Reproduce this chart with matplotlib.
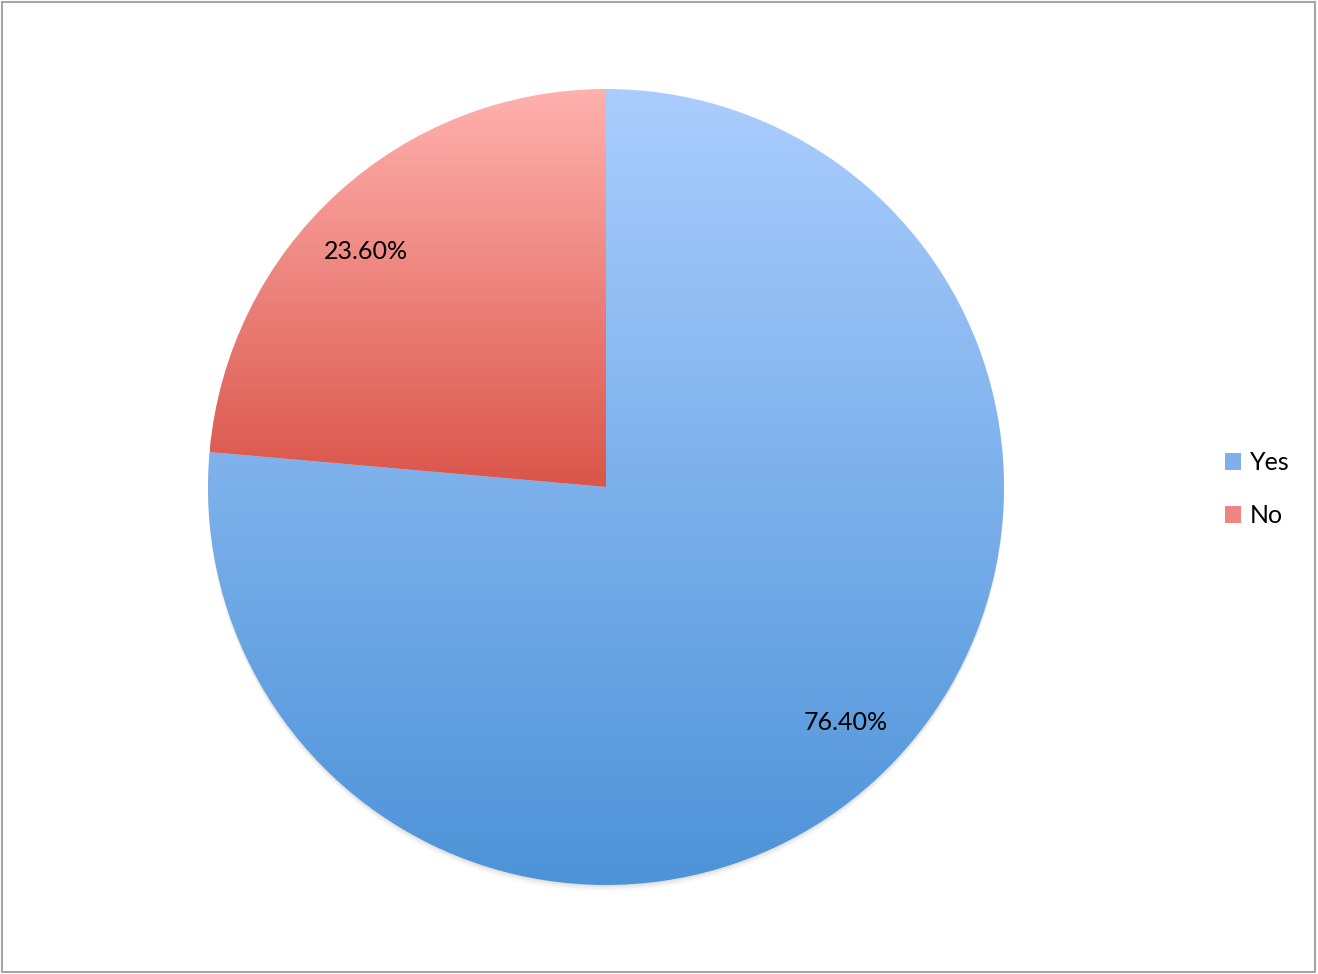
import matplotlib
matplotlib.use("Agg")
import matplotlib.pyplot as plt
import numpy as np
from matplotlib.colors import LinearSegmentedColormap
from matplotlib.patches import Rectangle, Circle, Patch

# data
labels = ['Yes', 'No']
values = [76.4, 23.6]
top_colors = ['#abcdfe', '#ffb1ae']
bottom_colors = ['#4d93d8', '#da554a']

W, H = 1318, 974
fig = plt.figure(figsize=(W / 100, H / 100), dpi=100)
ax = fig.add_axes([0, 0, 1, 1])

cx, cy, r = 606, 487, 398

# soft shadow under the pie
for k, a in [(6, 0.05), (4, 0.08), (2, 0.12)]:
    ax.add_patch(Circle((cx, cy - k), r, color='#888888', alpha=a, lw=0, zorder=0))

wedges, texts, autotexts = ax.pie(
    values, center=(cx, cy), radius=r, startangle=90, counterclock=False,
    autopct=lambda p: f'{p:.2f}%', pctdistance=0.845, frame=True,
    wedgeprops=dict(linewidth=0),
    textprops=dict(fontsize=18, family='Lato', color='black'))
ax.set_xlim(0, W)
ax.set_ylim(0, H)
ax.axis('off')

# vertical gradient fill per wedge
for w, c_top, c_bot in zip(wedges, top_colors, bottom_colors):
    path = w.get_path().transformed(w.get_patch_transform())
    ext = path.get_extents()
    cmap = LinearSegmentedColormap.from_list('g', [c_bot, c_top])
    grad = np.linspace(0, 1, 256).reshape(-1, 1)
    im = ax.imshow(grad, cmap=cmap, origin='lower', aspect='auto',
                   extent=[ext.x0, ext.x1, ext.y0, ext.y1], zorder=1)
    im.set_clip_path(w)
    w.set_facecolor('none')
    w.set_zorder(2)

# labels sit a little counter-clockwise of the wedge middle, like Excel does
for w, t in zip(wedges, autotexts):
    ang = np.deg2rad((w.theta1 + w.theta2) / 2 + 3)
    t.set_position((cx + 0.845 * r * np.cos(ang), cy + 0.845 * r * np.sin(ang)))
    t.set_zorder(3)

ax.set_xlim(0, W)
ax.set_ylim(0, H)

# legend
handles = [Patch(facecolor=c, edgecolor='none') for c in ['#7fb0ea', '#ef8580']]
fig.legend(handles, labels, loc='center left', bbox_to_anchor=(1202 / W, 1 - 489 / H),
           frameon=False, prop=dict(family='Lato', size=18),
           handlelength=0.65, handleheight=0.65, handletextpad=0.35, labelspacing=1.2)

# outer border
fig.add_artist(Rectangle((1.5 / W, 2 / H), (W - 4.5) / W, (H - 4) / H,
                         transform=fig.transFigure, fill=False,
                         edgecolor='#a6a6a6', linewidth=1.5))

fig.savefig('out.png', dpi=100)
